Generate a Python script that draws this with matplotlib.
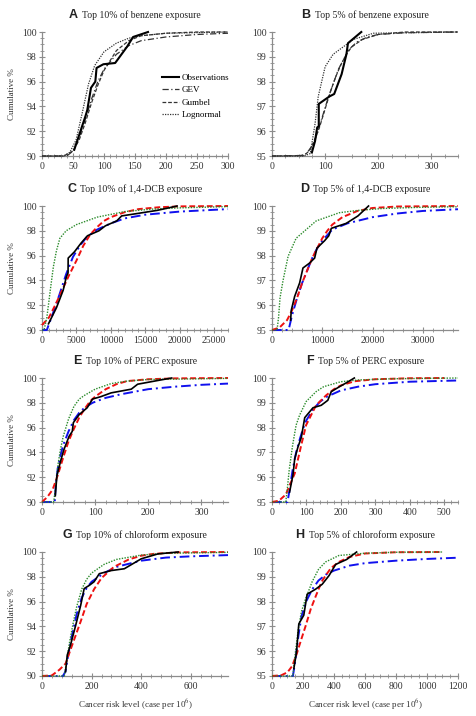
import matplotlib

matplotlib.use("Agg")

import matplotlib.pyplot as plt  # noqa: E402
import numpy as np  # noqa: E402
from matplotlib.offsetbox import AnchoredOffsetbox, HPacker, TextArea  # noqa: E402
from matplotlib.ticker import MultipleLocator  # noqa: E402

plt.rcParams["mathtext.fontset"] = "stix"

SERIF = "Liberation Serif"
SANS = "Liberation Sans"

# ---------------------------------------------------------------- data (x, cumulative %)
# A  top 10% benzene
a_obs = [(52, 90.5), (70, 93.2), (73, 93.7), (79, 95.5), (86, 96.0), (88, 97.1), (99, 97.4),
         (118, 97.5), (137, 98.8), (147, 99.6), (171, 100.0)]
a_gev = [(0, 90.0), (40, 90.0), (50, 90.4), (60, 91.5), (70, 93.0), (80, 94.6), (90, 96.0), (100, 97.0),
         (120, 98.2), (140, 98.9), (160, 99.3), (200, 99.6), (250, 99.8), (300, 99.9)]
a_gum = [(0, 90.0), (35, 90.0), (50, 90.4), (60, 91.3), (70, 92.7), (80, 94.3), (90, 95.7), (100, 96.9),
         (120, 98.5), (140, 99.3), (160, 99.7), (200, 99.9), (250, 100.0), (300, 100.0)]
a_logn = [(0, 90.0), (35, 90.0), (45, 90.3), (55, 91.3), (65, 93.5), (75, 95.8), (85, 97.3), (100, 98.4),
          (120, 99.1), (140, 99.5), (160, 99.7), (200, 99.9), (300, 100.0)]

# B  top 5% benzene
b_obs = [(75, 95.14), (81, 95.6), (85, 96.15), (88, 96.2), (88, 97.1), (108, 97.4), (117, 97.5),
         (131, 98.3), (140, 99.1), (143, 99.55), (168, 100.0)]
b_gev = [(0, 95.0), (55, 95.02), (65, 95.1), (75, 95.4), (85, 95.9), (95, 96.6), (105, 97.3), (115, 97.9),
         (125, 98.5), (135, 98.9), (145, 99.3), (160, 99.6), (180, 99.8), (200, 99.9), (250, 99.97), (350, 100.0)]
b_gum = [(0, 95.0), (60, 95.02), (70, 95.2), (80, 95.6), (90, 96.2), (100, 96.9), (110, 97.6), (120, 98.2),
         (130, 98.7), (140, 99.1), (150, 99.4), (170, 99.7), (200, 99.9), (250, 100.0), (350, 100.0)]
b_logn = [(0, 95.0), (60, 95.0), (72, 95.1), (81, 96.3), (87, 97.4), (100, 98.6), (115, 99.1), (134, 99.4),
          (153, 99.7), (191, 99.95), (350, 100.0)]

# C  top 10% 1,4-DCB
c_obs = [(940, 90.5), (2100, 91.8), (3070, 93.2), (3540, 94.3), (3780, 94.6), (3800, 95.8), (4700, 96.3),
         (5660, 97.0), (6600, 97.6), (8260, 98.0), (9200, 98.4), (10850, 98.8), (11560, 99.2), (13900, 99.4),
         (16750, 99.65), (19600, 100.0)]
c_gev = [(0, 90.0), (700, 90.0), (1500, 91.2), (2500, 92.8), (3500, 94.5), (4500, 95.9), (5500, 96.8),
         (6500, 97.5), (8000, 98.1), (10000, 98.6), (12000, 99.0), (15000, 99.3), (20000, 99.55), (27000, 99.75)]
c_gum = [(0, 90.4), (1000, 91.0), (2000, 92.1), (3000, 93.3), (4000, 94.5), (5000, 95.6), (6000, 96.8),
         (7000, 97.7), (8000, 98.3), (9000, 98.8), (10000, 99.1), (12000, 99.5), (14000, 99.75), (17000, 99.9),
         (20000, 99.97), (27000, 100.0)]
c_logn = [(0, 90.0), (300, 90.0), (700, 91.0), (1000, 92.3), (1200, 93.2), (1650, 95.1), (2100, 96.4),
          (2600, 97.4), (3500, 98.0), (5000, 98.5), (8000, 99.1), (12000, 99.55), (16000, 99.75), (20000, 99.85),
          (27000, 99.95)]

# D  top 5% 1,4-DCB
d_obs = [(3700, 95.4), (3840, 95.8), (4500, 96.35), (5500, 96.9), (6160, 97.5), (7480, 97.7), (8480, 97.9),
         (8940, 98.3), (10460, 98.6), (11300, 98.8), (11800, 99.1), (14770, 99.3), (17100, 99.6), (19200, 100.0)]
d_gev = [(0, 95.0), (3300, 95.0), (4000, 95.6), (5000, 96.3), (6000, 96.9), (7000, 97.4), (8000, 97.9),
         (9000, 98.3), (10000, 98.6), (12000, 99.05), (15000, 99.3), (20000, 99.55), (25000, 99.7), (30000, 99.8),
         (37000, 99.87)]
d_gum = [(0, 95.0), (1500, 95.1), (3000, 95.4), (4000, 95.8), (5000, 96.3), (6000, 96.9), (7000, 97.4),
         (8000, 97.9), (9000, 98.3), (10000, 98.7), (11000, 99.0), (12000, 99.25), (14000, 99.55), (17000, 99.8),
         (20000, 99.92), (25000, 99.98), (37000, 100.0)]
d_logn = [(0, 95.0), (1000, 95.0), (1300, 95.5), (1600, 96.3), (2200, 97.0), (3200, 97.97), (4800, 98.7),
          (6800, 99.05), (8800, 99.4), (13400, 99.73), (17000, 99.82), (22000, 99.9), (30000, 99.95),
          (37000, 99.97)]

# E  top 10% PERC
e_obs = [(25, 90.5), (28, 92.1), (35, 93.3), (41, 94.2), (51, 95.3), (57, 95.7), (59, 96.4), (70, 97.05),
         (85, 97.6), (95, 98.3), (111, 98.5), (130, 98.8), (168, 99.1), (180, 99.5), (218, 99.8), (244, 100.0)]
e_gev = [(0, 90.0), (24, 90.0), (26, 91.5), (30, 92.8), (35, 93.8), (40, 94.6), (50, 95.7), (60, 96.6),
         (70, 97.2), (80, 97.6), (95, 98.0), (120, 98.4), (150, 98.7), (200, 99.1), (250, 99.3), (300, 99.45),
         (350, 99.55)]
e_gum = [(0, 90.0), (10, 90.4), (20, 91.0), (30, 92.2), (40, 93.6), (50, 94.9), (60, 95.9), (70, 96.8),
         (80, 97.5), (90, 98.1), (100, 98.5), (120, 99.1), (140, 99.5), (160, 99.75), (200, 99.9), (250, 99.97),
         (350, 100.0)]
e_logn = [(0, 90.0), (22, 90.0), (25, 91.0), (30, 93.0), (35, 94.3), (40, 95.3), (50, 96.7), (60, 97.7),
          (70, 98.3), (80, 98.6), (100, 99.1), (130, 99.55), (160, 99.75), (200, 99.88), (350, 99.97)]

# F  top 5% PERC
f_obs = [(51, 95.4), (61, 96.1), (66, 96.75), (75, 97.2), (85, 97.6), (95, 98.4), (119, 98.8), (143, 98.9),
         (162, 99.1), (172, 99.45), (196, 99.65), (215, 99.8), (239, 100.0)]
f_gev = [(0, 95.0), (45, 95.0), (50, 95.4), (60, 96.3), (70, 97.0), (80, 97.5), (90, 97.95), (100, 98.3),
         (120, 98.75), (140, 99.05), (160, 99.25), (200, 99.5), (250, 99.65), (300, 99.75), (400, 99.85),
         (540, 99.9)]
f_gum = [(0, 95.0), (20, 95.05), (40, 95.3), (66, 96.15), (85, 97.3), (99, 98.1), (128, 98.9), (157, 99.3),
         (180, 99.55), (200, 99.7), (240, 99.87), (300, 99.95), (400, 99.99), (500, 100.0)]
f_logn = [(0, 95.0), (40, 95.0), (45, 95.6), (50, 96.3), (60, 97.3), (70, 98.1), (80, 98.5), (99, 99.05),
          (128, 99.45), (150, 99.65), (200, 99.85), (250, 99.92), (350, 99.97), (540, 100.0)]

# G  top 10% chloroform
g_obs = [(95, 90.35), (102, 91.7), (115, 92.5), (136, 94.1), (156, 95.7), (170, 97.05), (190, 97.3),
         (210, 97.6), (231, 98.25), (278, 98.5), (332, 98.65), (400, 99.45), (468, 99.85), (549, 100.0)]
g_gev = [(0, 90.0), (85, 90.0), (95, 90.4), (105, 91.6), (120, 93.2), (140, 95.0), (160, 96.3), (180, 97.1),
         (200, 97.6), (250, 98.3), (300, 98.8), (400, 99.3), (500, 99.55), (600, 99.65), (750, 99.75)]
g_gum = [(0, 90.0), (40, 90.05), (70, 90.5), (95, 91.0), (120, 92.4), (156, 94.4), (180, 95.8), (210, 97.0),
         (240, 97.9), (290, 98.8), (350, 99.4), (400, 99.7), (450, 99.85), (550, 99.97), (750, 100.0)]
g_logn = [(0, 90.0), (90, 90.0), (100, 91.3), (110, 92.6), (125, 94.2), (140, 95.6), (160, 97.0),
          (180, 97.8), (200, 98.3), (250, 99.0), (300, 99.4), (400, 99.75), (500, 99.9), (750, 99.97)]

# H  top 5% chloroform
h_obs = [(141, 95.3), (158, 95.95), (173, 97.1), (205, 97.45), (227, 98.3), (281, 98.5), (324, 98.7),
         (368, 99.05), (411, 99.5), (482, 99.7), (546, 100.0)]
h_gev = [(0, 95.0), (135, 95.0), (150, 95.6), (170, 96.6), (190, 97.4), (220, 98.0), (260, 98.5),
         (300, 98.85), (350, 99.1), (400, 99.25), (500, 99.45), (600, 99.55), (800, 99.65), (1000, 99.72),
         (1200, 99.77)]
h_gum = [(0, 95.0), (60, 95.03), (100, 95.15), (130, 95.4), (160, 95.9), (190, 96.5), (216, 97.0), (250, 97.7),
         (281, 98.2), (320, 98.8), (346, 99.05), (380, 99.35), (432, 99.6), (500, 99.8), (600, 99.94),
         (800, 99.99), (1100, 100.0)]
h_logn = [(0, 95.0), (135, 95.0), (150, 95.9), (170, 96.9), (190, 97.6), (216, 98.1), (259, 98.8),
          (300, 99.3), (346, 99.6), (432, 99.86), (600, 99.95), (800, 99.99), (1100, 100.0)]

SERIES = ["Observations", "GEV", "Gumbel", "Lognormal"]
TITLES = [("A", "Top 10% of benzene exposure"), ("B", "Top 5% of benzene exposure"),
          ("C", "Top 10% of 1,4-DCB exposure"), ("D", "Top 5% of 1,4-DCB exposure"),
          ("E", "Top 10% of PERC exposure"), ("F", "Top 5% of PERC exposure"),
          ("G", "Top 10% of chloroform exposure"), ("H", "Top 5% of chloroform exposure")]
CURVES = [(a_obs, a_gev, a_gum, a_logn), (b_obs, b_gev, b_gum, b_logn),
          (c_obs, c_gev, c_gum, c_logn), (d_obs, d_gev, d_gum, d_logn),
          (e_obs, e_gev, e_gum, e_logn), (f_obs, f_gev, f_gum, f_logn),
          (g_obs, g_gev, g_gum, g_logn), (h_obs, h_gev, h_gum, h_logn)]

# ---------------------------------------------------------------- layout / styles
# (xmax, major x step, minor x step, ymin, major y step, minor y step)
AXES = [(300, 50, 10, 90, 2, 0.5), (350, 100, 25, 95, 1, 0.25),
        (27000, 5000, 1000, 90, 2, 0.5), (37000, 10000, 2000, 95, 1, 0.25),
        (350, 100, 20, 90, 2, 0.5), (540, 100, 20, 95, 1, 0.25),
        (750, 200, 40, 90, 2, 0.5), (1200, 200, 50, 95, 1, 0.25)]

MONO = [dict(color="black", lw=1.5, ls="-"),
        dict(color="#333333", lw=0.9, ls=(0, (5, 2, 1, 2))),
        dict(color="#333333", lw=0.9, ls=(0, (3, 1.5))),
        dict(color="#333333", lw=0.9, ls=(0, (1, 1)))]
COLOUR = [dict(color="black", lw=1.2, ls="-"),
          dict(color="#1010ee", lw=1.4, ls=(0, (5, 2, 1, 2))),
          dict(color="#ee1010", lw=1.4, ls=(0, (3, 1.5))),
          dict(color="#2a8a2a", lw=1.0, ls=(0, (1, 1)))]

W, H = 477, 716
LEFTS = [42, 272]
TOPS = [32, 206, 378, 552]
AW, AH = 186, 124
AXIS_GREY = "#8c8c8c"
TXT = "#333333"

fig = plt.figure(figsize=(W / 100, H / 100), dpi=100)
fig.patch.set_facecolor("white")

for i, (title, curves, lims) in enumerate(zip(TITLES, CURVES, AXES)):
    row, col = divmod(i, 2)
    x0, top = LEFTS[col], TOPS[row]
    ax = fig.add_axes([x0 / W, 1 - (top + AH) / H, AW / W, AH / H])
    xmax, xmaj, xmin_, ymin, ymaj, ymin_ = lims
    styles = MONO if i < 2 else COLOUR

    lines = []
    for k, name in enumerate(SERIES):
        xy = np.array(curves[k], dtype=float)
        (ln,) = ax.plot(xy[:, 0], xy[:, 1], label=name, zorder=4 if k == 0 else 3, clip_on=False, **styles[k])
        lines.append(ln)

    ax.set_xlim(0, xmax)
    ax.set_ylim(ymin, 100)
    ax.xaxis.set_major_locator(MultipleLocator(xmaj))
    ax.xaxis.set_minor_locator(MultipleLocator(xmin_))
    ax.yaxis.set_major_locator(MultipleLocator(ymaj))
    ax.yaxis.set_minor_locator(MultipleLocator(ymin_))
    if i == 1:
        ax.set_xticks([0, 100, 200, 300])
    ax.set_yticklabels([f"{v:g}" for v in ax.get_yticks()])
    for s in ("top", "right"):
        ax.spines[s].set_visible(False)
    for s in ("left", "bottom"):
        ax.spines[s].set_color(AXIS_GREY)
        ax.spines[s].set_linewidth(0.9)
    ax.tick_params(which="major", direction="inout", length=4, width=0.8, color=AXIS_GREY,
                   labelsize=7, labelcolor=TXT, pad=2)
    ax.tick_params(which="minor", direction="inout", length=2.5, width=0.6, color=AXIS_GREY)
    for lab in ax.get_xticklabels() + ax.get_yticklabels():
        lab.set_family(SERIF)
    ax.set_facecolor("none")

    # panel title: bold sans letter + serif text
    letter = TextArea(title[0], textprops=dict(family=SANS, weight="bold", size=9, color="#222222"))
    rest = TextArea(title[1], textprops=dict(family=SERIF, size=7, color="#222222"))
    box = HPacker(children=[letter, rest], align="baseline", pad=0, sep=3)
    ax.add_artist(AnchoredOffsetbox(loc="lower center", child=box, pad=0, borderpad=0, frameon=False,
                                    bbox_to_anchor=(0.5, 1 + 11 / AH), bbox_transform=ax.transAxes))

    if col == 0:
        ax.set_ylabel("Cumulative %", family=SERIF, fontsize=6.5, color=TXT)
        ax.yaxis.set_label_coords(-26 / AW, 0.5)
    if row == 3:
        ax.set_xlabel(r"Cancer risk level (case per 10$^{6}$)", family=SERIF, fontsize=6.5,
                      color=TXT, labelpad=5)
    if i == 0:
        ax.legend(handles=lines, loc="upper left", bbox_to_anchor=(0.62, 0.70), frameon=False,
                  prop=dict(family=SERIF, size=6.5), handlelength=1.9, handletextpad=0.3,
                  labelspacing=0.45, borderpad=0)

fig.savefig("out.png", dpi=100, facecolor="white")
